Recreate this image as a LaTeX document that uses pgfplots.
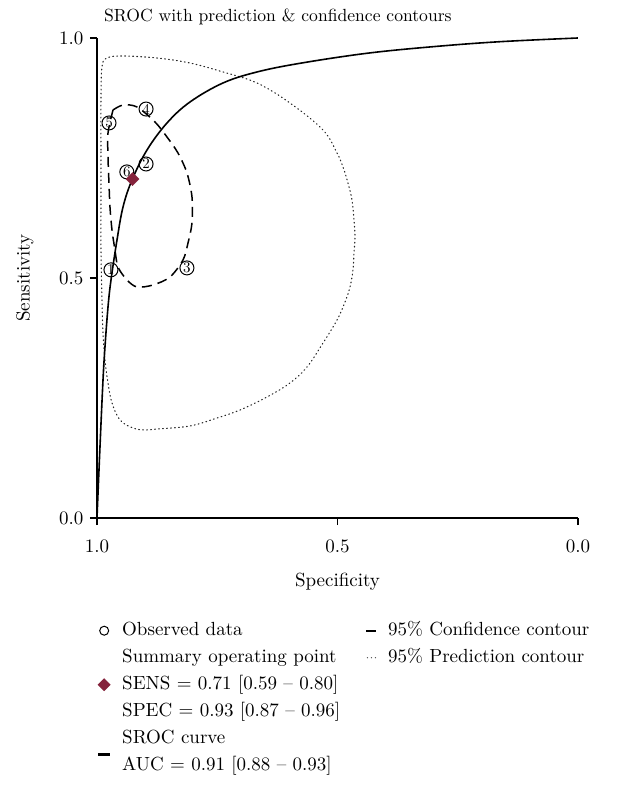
\RequirePackage{fix-cm}
\documentclass[border=0pt]{standalone}
\usepackage{fontspec}
\setmainfont{lmroman10-regular.otf}
\usepackage{pgfplots}
\pgfplotsset{compat=1.18}
\definecolor{sumred}{RGB}{133,35,60}
\begin{document}
\begin{tikzpicture}[font=\fontsize{19bp}{24bp}\selectfont]
\begin{axis}[
  scale only axis, width=481bp, height=480bp,
  x dir=reverse,
  xmin=0, xmax=1, ymin=0, ymax=1,
  axis lines=left,
  axis line style={-, line width=1.2bp, black},
  tick align=outside,
  major tick length=7bp,
  tick style={line width=1.2bp, black},
  xtick={0,0.5,1}, ytick={0,0.5,1},
  xticklabels={0.0,0.5,1.0}, yticklabels={0.0,0.5,1.0},
  ticklabel style={font=\fontsize{19bp}{24bp}\selectfont},
  xticklabel style={yshift=-11bp},
  yticklabel style={xshift=-3bp},
  title={SROC with prediction \& confidence contours},
  title style={at={(axis description cs:0.376,1)}, anchor=base, yshift=11bp, font=\fontsize{17.6bp}{20bp}\selectfont, inner sep=0pt},
  xlabel={Specificity}, ylabel={Sensitivity},
  every axis x label/.style={at={(axis description cs:0.5,-0.133)}, anchor=center},
  every axis y label/.style={at={(axis description cs:-0.15,0.5)}, rotate=90, anchor=center},
  legend columns=2,
  legend cell align=left,
  legend style={at={(axis description cs:0,-0.2146)}, anchor=north west, draw=none, fill=none, inner sep=0pt, column sep=11bp, row sep=8bp, nodes={inner sep=0pt, text height=14bp, text depth=5bp}, font=\fontsize{19bp}{24bp}\selectfont},
]
\coordinate (BL) at (axis cs:1,0);
% 95% prediction contour
\addplot[forget plot, black!85, line width=1.1bp, dash pattern=on 0.8bp off 3.2bp, line cap=round, smooth, tension=0.6] table {
spec sens
0.9917 0.7667
0.9917 0.8708
0.9896 0.9396
0.9792 0.9583
0.9459 0.9625
0.8753 0.9583
0.8067 0.9479
0.7380 0.9292
0.6674 0.9063
0.5988 0.8646
0.5301 0.8083
0.5010 0.7604
0.4886 0.7313
0.4782 0.6979
0.4699 0.6625
0.4657 0.6208
0.4636 0.5854
0.4657 0.5521
0.4678 0.5167
0.4740 0.4813
0.4844 0.4500
0.5010 0.4125
0.5301 0.3646
0.5634 0.3146
0.5988 0.2813
0.6466 0.2521
0.7027 0.2250
0.7505 0.2083
0.8067 0.1917
0.8753 0.1854
0.9002 0.1833
0.9252 0.1875
0.9522 0.2042
0.9688 0.2396
0.9771 0.2813
0.9834 0.3292
0.9875 0.3854
0.9896 0.4542
0.9917 0.5583
0.9917 0.6625
0.9917 0.7667
};
% 95% confidence contour
\addplot[forget plot, black, line width=1.5bp, dash pattern=on 10bp off 6bp, smooth] table {
spec sens
0.9667 0.8500
0.9459 0.8604
0.9168 0.8563
0.8794 0.8250
0.8545 0.7938
0.8316 0.7604
0.8129 0.7188
0.8025 0.6688
0.8025 0.6146
0.8108 0.5729
0.8212 0.5375
0.8482 0.5021
0.8836 0.4854
0.9168 0.4813
0.9376 0.4958
0.9563 0.5229
0.9626 0.5583
0.9688 0.6000
0.9730 0.6479
0.9751 0.6979
0.9771 0.7521
0.9771 0.8021
0.9667 0.8500
};
% SROC curve
\addplot[forget plot, black, line width=1.6bp, smooth, tension=0.6] table {
spec sens
1.0000 0.0000
0.9938 0.1479
0.9875 0.2875
0.9834 0.3563
0.9771 0.4396
0.9709 0.4958
0.9584 0.5792
0.9459 0.6479
0.9272 0.7042
0.8960 0.7667
0.8545 0.8229
0.8067 0.8667
0.7380 0.9063
0.6674 0.9292
0.5780 0.9473
0.4393 0.9681
0.3015 0.9819
0.1622 0.9923
0.0000 1.0000
};
% observed data
\addplot[forget plot, only marks, mark=o, mark size=7bp, mark options={line width=1bp, black},
  nodes near coords, point meta=explicit symbolic,
  nodes near coords style={anchor=center, inner sep=0pt, font=\fontsize{15bp}{15bp}\selectfont, text=black}]
  table[x=spec, y=sens, meta=lab] {
spec sens lab
0.971 0.517 1
0.898 0.7375 2
0.813 0.521 3
0.898 0.852 4
0.975 0.823 5
0.938 0.721 6
};
% summary operating point
\addplot[forget plot, only marks, mark=square*, mark size=4.6bp, mark options={rotate=45, fill=sumred, draw=sumred}] coordinates {(0.926,0.706)};

\addlegendimage{legend image code/.code={\draw[black,line width=1bp] (7bp,0bp) circle (4.5bp); \path[draw=none,fill=none] (0bp,-1bp) rectangle (14bp,1bp);}}
\addlegendentry{Observed data}
\addlegendimage{legend image code/.code={\draw[black,line width=1.6bp] (0bp,0bp) -- (10bp,0bp);}}
\addlegendentry{95\% Confidence contour}
\addlegendimage{empty legend}
\addlegendentry{Summary operating point\hspace*{18bp}}
\addlegendimage{legend image code/.code={\fill[black!70,draw=none] (1bp,0bp) circle (0.65bp); \fill[black!70,draw=none] (5bp,0bp) circle (0.65bp); \fill[black!70,draw=none] (9bp,0bp) circle (0.65bp); \path[draw=none,fill=none] (0bp,-1bp) rectangle (10bp,1bp);}}
\addlegendentry{95\% Prediction contour}
\addlegendimage{legend image code/.code={\fill[sumred,draw=none] (7bp,-6.5bp) -- (13.5bp,0bp) -- (7bp,6.5bp) -- (0.5bp,0bp) -- cycle; \path[draw=none,fill=none] (0bp,-1bp) rectangle (14bp,1bp);}}
\addlegendentry{SENS = 0.71 [0.59 -- 0.80]}
\addlegendimage{empty legend}
\addlegendentry{\mbox{}}
\addlegendimage{empty legend}
\addlegendentry{SPEC = 0.93 [0.87 -- 0.96]}
\addlegendimage{empty legend}
\addlegendentry{\mbox{}}
\addlegendimage{empty legend}
\addlegendentry{SROC curve}
\addlegendimage{empty legend}
\addlegendentry{\mbox{}}
\addlegendimage{legend image code/.code={\draw[overlay,black,line width=2.6bp] (1bp,11bp) -- (13bp,11bp); \path[draw=none,fill=none] (0bp,-1bp) rectangle (14bp,1bp);}}
\addlegendentry{AUC = 0.91 [0.88 -- 0.93]}
\end{axis}
\path (BL) ++(-97bp,-267bp) rectangle ++(642bp,785bp);
\end{tikzpicture}
\end{document}
